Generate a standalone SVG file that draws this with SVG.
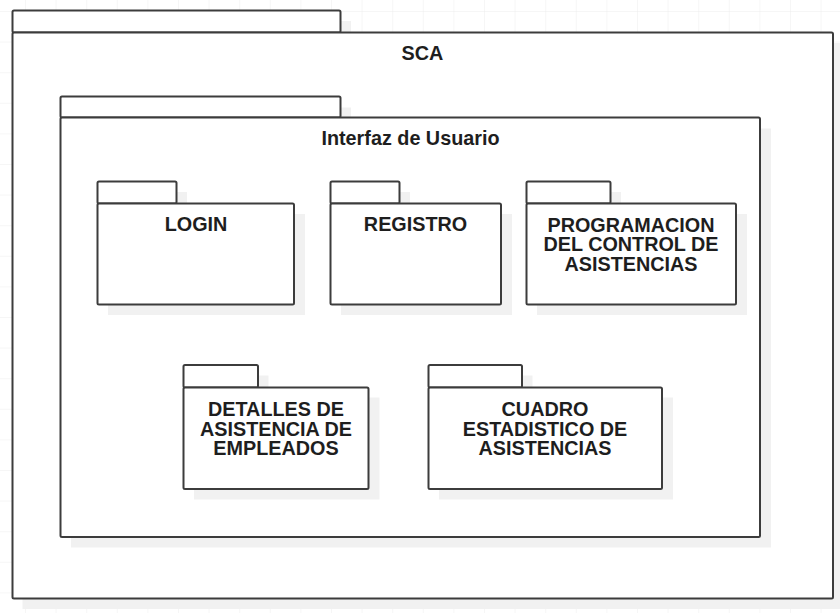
<svg xmlns="http://www.w3.org/2000/svg" width="840" height="613" viewBox="0 0 840 613">
<defs>
<pattern id="grid" patternUnits="userSpaceOnUse" x="25" y="11" width="30.6" height="30.6">
<path d="M0 0H30.6M0 0V30.6" fill="none" stroke="#ededed" stroke-width="1"/>
</pattern>
<style>
.sh{fill:#f1f1f1;stroke:none}
.pk{fill:#ffffff;stroke:#3c3c3c;stroke-width:2;stroke-linejoin:round}
.t{font-family:"Liberation Sans",Arial,Helvetica,sans-serif;font-weight:bold;font-size:19.8px;fill:#1e1e1e;text-anchor:middle}
</style>
</defs>
<rect width="840" height="613" fill="#ffffff"/>
<rect width="840" height="613" fill="url(#grid)"/>

<g id="pkg-sca">
<rect class="sh" x="22.5" y="21" width="328.5" height="22"/>
<rect class="sh" x="22.5" y="43" width="821" height="566"/>
<rect class="pk" x="12.5" y="10.5" width="328" height="22" rx="1.5"/>
<rect class="pk" x="12.5" y="32.5" width="820.5" height="566" rx="1.5"/>
<text class="t" x="422.5" y="60">SCA</text>
</g>

<g id="pkg-interfaz">
<rect class="sh" x="71" y="107.5" width="280" height="21"/>
<rect class="sh" x="71" y="128.5" width="700" height="419"/>
<rect class="pk" x="60.5" y="96.5" width="280" height="21" rx="1.5"/>
<rect class="pk" x="60.5" y="117.5" width="699.5" height="419.5" rx="1.5"/>
<text class="t" x="410.5" y="145">Interfaz de Usuario</text>
</g>

<g id="pkg-login">
<rect class="sh" x="108" y="192" width="79" height="22"/>
<rect class="sh" x="108" y="214" width="197" height="101"/>
<rect class="pk" x="97.5" y="181.5" width="79" height="22" rx="1.5"/>
<rect class="pk" x="97.5" y="203.5" width="196.5" height="101" rx="1.5"/>
<text class="t" x="196" y="231">LOGIN</text>
</g>

<g id="pkg-registro">
<rect class="sh" x="341" y="192" width="69" height="22"/>
<rect class="sh" x="341" y="214" width="171" height="101"/>
<rect class="pk" x="330.5" y="181.5" width="69" height="22" rx="1.5"/>
<rect class="pk" x="330.5" y="203.5" width="170.5" height="101" rx="1.5"/>
<text class="t" x="415.5" y="231">REGISTRO</text>
</g>

<g id="pkg-programacion">
<rect class="sh" x="537" y="192" width="84" height="22"/>
<rect class="sh" x="537" y="214" width="210" height="101"/>
<rect class="pk" x="526.5" y="181.5" width="84" height="22" rx="1.5"/>
<rect class="pk" x="526.5" y="203.5" width="209.5" height="101" rx="1.5"/>
<text class="t" x="631" y="231.5">PROGRAMACION</text>
<text class="t" x="631" y="251">DEL CONTROL DE</text>
<text class="t" x="631" y="270.5">ASISTENCIAS</text>
</g>

<g id="pkg-detalles">
<rect class="sh" x="194" y="375.5" width="74.5" height="22"/>
<rect class="sh" x="194" y="397.5" width="185.5" height="102"/>
<rect class="pk" x="183.5" y="365" width="74.5" height="22.5" rx="1.5"/>
<rect class="pk" x="183.5" y="387.5" width="185" height="101.5" rx="1.5"/>
<text class="t" x="276" y="416">DETALLES DE</text>
<text class="t" x="276" y="435.5">ASISTENCIA DE</text>
<text class="t" x="276" y="455">EMPLEADOS</text>
</g>

<g id="pkg-cuadro">
<rect class="sh" x="439" y="375.5" width="93.5" height="22"/>
<rect class="sh" x="439" y="397.5" width="234" height="102"/>
<rect class="pk" x="428.5" y="365" width="93.5" height="22.5" rx="1.5"/>
<rect class="pk" x="428.5" y="387.5" width="233.5" height="101.5" rx="1.5"/>
<text class="t" x="545" y="416">CUADRO</text>
<text class="t" x="545" y="435.5">ESTADISTICO DE</text>
<text class="t" x="545" y="455">ASISTENCIAS</text>
</g>

<g id="connectors"></g>
</svg>
